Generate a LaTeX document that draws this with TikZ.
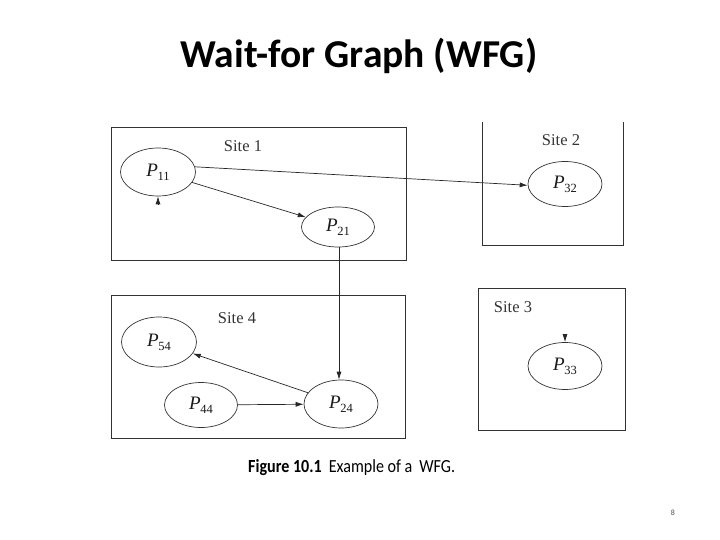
\documentclass[tikz,border=0pt]{standalone}
\usepackage{fontspec}
\setmainfont{Liberation Serif}
\newfontfamily\calib{Carlito}
\usetikzlibrary{shapes.geometric,arrows.meta}
\newcommand\plab[1]{\textit{P}\kern-0.5pt\raisebox{-0.45ex}{\fontsize{12.5}{12}\selectfont #1}}
\tikzset{
  proc/.style={ellipse, draw=black!80, line width=0.7pt, inner sep=0pt, font=\fontsize{19}{20}\selectfont, text=black!90},
  site/.style={draw=black!80, line width=0.9pt},
  sitelabel/.style={font=\fontsize{16.5}{18}\selectfont, text=black!80, inner sep=0pt},
  edge/.style={draw=black!85, line width=0.7pt, -{Latex[length=8pt,width=5pt]}},
}
\begin{document}
\begin{tikzpicture}[x=1pt,y=-1pt]
\useasboundingbox (0,0) rectangle (720,540);
% title
\node[anchor=base, font=\calib\bfseries\fontsize{39.5}{44}\selectfont, text=black, inner sep=0pt] (title) at (359,68) {Wait-for Graph (WFG)};
% site boxes
\draw[site] (111,127) rectangle (406,260);
\draw[site] (482,122) -- (482,245) -- (623,245) -- (623,122);
\draw[site] (111,295) rectangle (405,438);
\draw[site] (478,288) rectangle (625,430);
% site labels
\node[sitelabel] (s1) at (243,146) {Site 1};
\node[sitelabel] (s2) at (561,140) {Site 2};
\node[sitelabel] (s4) at (237,318) {Site 4};
\node[sitelabel] (s3) at (513,307) {Site 3};
% processes
\node[proc, minimum width=75pt, minimum height=48pt] (P11) at (158,172) {\plab{11}};
\node[proc, minimum width=73pt, minimum height=40pt] (P21) at (338,227) {\plab{21}};
\node[proc, minimum width=74pt, minimum height=45pt] (P32) at (565,184) {\plab{32}};
\node[proc, minimum width=75pt, minimum height=50pt] (P54) at (159,342) {\plab{54}};
\node[proc, minimum width=73pt, minimum height=45pt] (P44) at (201,405) {\plab{44}};
\node[proc, minimum width=74pt, minimum height=48pt] (P24) at (341,404) {\plab{24}};
\node[proc, minimum width=74pt, minimum height=47pt] (P33) at (565,366) {\plab{33}};
% edges
\draw[edge] (P11.8) -- (P32.182);
\draw[edge] (P11) -- (P21);
\draw[edge] (P21.south -| 339,0) -- (P24.north -| 339,0);
\draw[edge] (P24) -- (P54);
\draw[edge] (P44) -- (P24);
% dangling arrowheads
\coordinate (a11) at (158,205);
\coordinate (a33) at (565,335);
\draw[edge] (a11) -- (P11.south);
\draw[edge] (a33) -- (P33.north);
% caption
\node[anchor=base west, inner sep=0pt, font=\calib\fontsize{18.5}{20}\selectfont] (cap) at (248,472) {\scalebox{0.87}[1]{\textbf{Figure 10.1}\hspace{8pt}Example of a\hspace{8pt}WFG.}};
% page number
\node[font=\calib\fontsize{8}{9}\selectfont, text=black!70, inner sep=0pt] (pg) at (673,513) {8};
\end{tikzpicture}
\end{document}
